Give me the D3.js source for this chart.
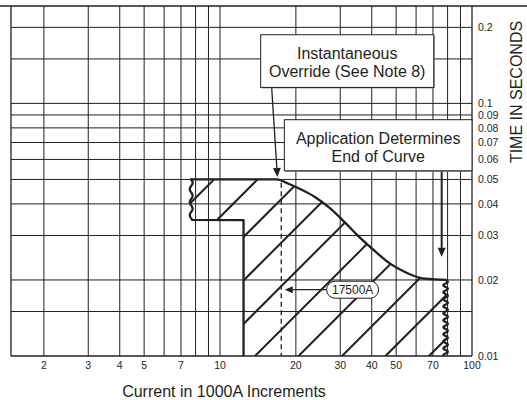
<!DOCTYPE html>
<html lang="en">
<head>
<meta charset="utf-8" />
<title>Instantaneous override curve</title>
<script src="https://d3js.org/d3.v7.min.js"></script>
<style>
  body { margin: 0; background: #fff; }
  svg { display: block; font-family: "Liberation Sans", Arial, Helvetica, sans-serif; }
</style>
</head>
<body>
<svg id="chart" width="527" height="400"></svg>
<script>
// grid and labels
const xGrid = [2, 3, 4, 5, 6, 7, 8, 9, 10, 20, 30, 40, 50, 60, 70, 80, 90];
const xTicks = [2, 3, 4, 5, 7, 10, 20, 30, 40, 50, 70, 100];
const yGrid = [0.015, 0.02, 0.03, 0.04, 0.05, 0.06, 0.07, 0.08, 0.09, 0.1, 0.15, 0.2];
const yTicks = [0.01, 0.02, 0.03, 0.04, 0.05, 0.06, 0.07, 0.08, 0.09, 0.1, 0.2];

// upper edge of the band (current in kA, time in s)
const curveCurrent = [7.6, 16.8, 18.6, 20.8, 23.8, 27.3, 31.3, 35.9, 41.2, 47.3, 54.2, 62.2, 71.3, 79];
const curveTime = [0.05, 0.05, 0.0482, 0.0458, 0.0426, 0.0385, 0.0338, 0.0294, 0.026, 0.0232, 0.0215, 0.0204, 0.0201, 0.02];
// step on the left side of the band
const stepCurrent = 12.4;
const stepTime = 0.0345;
const overrideCurrent = 17.5;

const svg = d3.select("#chart");
const ink = "#231f20";

const x = d3.scaleLog().domain([1.481, 100]).range([11, 472]);
const y = d3.scaleLog().domain([0.01, 0.243]).range([356, 6]);
const pLeft = x.range()[0], pRight = x.range()[1];
const pTop = y.range()[1], pBottom = y.range()[0];

// grid
const grid = svg.append("g").attr("stroke", ink).attr("stroke-width", 1);
grid.selectAll(".vx").data(xGrid).join("line")
  .attr("x1", d => x(d)).attr("x2", d => x(d))
  .attr("y1", pTop).attr("y2", pBottom);
grid.selectAll(".hy").data(yGrid).join("line")
  .attr("x1", pLeft).attr("x2", pRight)
  .attr("y1", d => y(d)).attr("y2", d => y(d));

// frame
svg.append("line").attr("x1", 0).attr("x2", 527).attr("y1", pTop).attr("y2", pTop)
  .attr("stroke", ink).attr("stroke-width", 1.3);
svg.append("line").attr("x1", pLeft).attr("x2", pLeft).attr("y1", pTop).attr("y2", pBottom)
  .attr("stroke", ink).attr("stroke-width", 1.3);
svg.append("line").attr("x1", pRight).attr("x2", pRight).attr("y1", pTop).attr("y2", pBottom)
  .attr("stroke", ink).attr("stroke-width", 1.3);
svg.append("line").attr("x1", pLeft).attr("x2", pRight).attr("y1", pBottom).attr("y2", pBottom)
  .attr("stroke", ink).attr("stroke-width", 1.3);

// tick labels
svg.append("g").selectAll("text").data(xTicks).join("text")
  .attr("x", d => x(d)).attr("y", 369)
  .attr("text-anchor", "middle").attr("font-size", 10.5).attr("fill", ink)
  .text(d => d);
svg.append("g").selectAll("text").data(yTicks).join("text")
  .attr("x", 478).attr("y", d => y(d) + 3.8)
  .attr("font-size", 10.5).attr("fill", ink)
  .text(d => String(d));

svg.append("text")
  .attr("transform", "translate(521.5,92) rotate(-90)")
  .attr("text-anchor", "middle").attr("font-size", 16).attr("fill", ink)
  .text("TIME IN SECONDS");
svg.append("text")
  .attr("x", 224).attr("y", 397)
  .attr("text-anchor", "middle").attr("font-size", 16).attr("fill", ink)
  .text("Current in 1000A Increments");

// band shape
const topPts = curveCurrent.map((c, i) => [x(c), y(curveTime[i])]);
const curveGen = d3.line().curve(d3.curveMonotoneX);
const topPath = curveGen(topPts);
const xL = x(curveCurrent[0]), xR = x(curveCurrent[curveCurrent.length - 1]);
const xS = x(stepCurrent), yS = y(stepTime);
const yTop = y(curveTime[0]), yRtop = y(curveTime[curveTime.length - 1]);

svg.append("clipPath").attr("id", "band")
  .append("path")
  .attr("d", topPath + `L${xR},${pBottom}L${xS},${pBottom}L${xS},${yS}L${xL},${yS}Z`);

// hatching
const hatchGap = 43.5;
const hatch = d3.range(10).map(k => 393.5 + k * hatchGap);
svg.append("g").attr("clip-path", "url(#band)")
  .selectAll("line").data(hatch).join("line")
  .attr("x1", c => c - pBottom).attr("y1", pBottom)
  .attr("x2", c => c - pTop).attr("y2", pTop)
  .attr("stroke", ink).attr("stroke-width", 2);

function wavy(px, y0, y1, amp, period, shift) {
  return d3.range(y0, y1 + 0.01, 0.5)
    .map(py => [px + shift + amp * Math.sin((py - y0) / period * 2 * Math.PI), py]);
}
const plain = d3.line();

const outline = svg.append("g").attr("fill", "none").attr("stroke", ink)
  .attr("stroke-width", 2.3).attr("stroke-linejoin", "round");
outline.append("path").attr("d", topPath);
outline.append("path").attr("d", plain(wavy(xR, yRtop, pBottom, 2.2, 7, -0.6)));
outline.append("path")
  .attr("d", plain(wavy(xL, yTop, yS, 1.4, 13, 1.2)) + `L${xS},${yS}L${xS},${pBottom}`);

// 17500A marker
svg.append("line")
  .attr("x1", x(overrideCurrent)).attr("x2", x(overrideCurrent))
  .attr("y1", y(0.0485)).attr("y2", pBottom)
  .attr("stroke", ink).attr("stroke-width", 1.3).attr("stroke-dasharray", "5,3.5");

function arrow(x1, y1, x2, y2, width, len, half) {
  const a = Math.atan2(y2 - y1, x2 - x1);
  const bx = x2 - len * Math.cos(a), by = y2 - len * Math.sin(a);
  const g = svg.append("g");
  g.append("line").attr("x1", x1).attr("y1", y1).attr("x2", bx).attr("y2", by)
    .attr("stroke", ink).attr("stroke-width", width);
  g.append("path")
    .attr("d", `M${x2},${y2}L${bx - half * Math.sin(a)},${by + half * Math.cos(a)}L${bx + half * Math.sin(a)},${by - half * Math.cos(a)}Z`)
    .attr("fill", ink);
}

const pill = { current: 33.6, time: 0.0183, w: 52, h: 17 };
const pcx = x(pill.current), pcy = y(pill.time);
arrow(pcx - pill.w / 2, pcy, x(overrideCurrent) + 3.5, pcy, 1.3, 8, 3.5);
svg.append("rect")
  .attr("x", pcx - pill.w / 2).attr("y", pcy - pill.h / 2)
  .attr("width", pill.w).attr("height", pill.h).attr("rx", pill.h / 2)
  .attr("fill", "#fff").attr("stroke", ink).attr("stroke-width", 1);
svg.append("text").attr("x", pcx).attr("y", pcy + 4.3)
  .attr("text-anchor", "middle").attr("font-size", 12).attr("fill", ink)
  .text("17500A");

// callouts
const callouts = [
  { lines: ["Instantaneous", "Override (See Note 8)"], i0: 14.5, i1: 70.5, t0: 0.187, t1: 0.1157,
    from: 16.03, to: [16.9, 0.0511], w: 1.3 },
  { lines: ["Application Determines", "End of Curve"], i0: 18, i1: 100, t0: 0.0862, t1: 0.0541,
    from: 75.8, to: [75.8, 0.0247], w: 2 }
];
callouts.forEach(c => {
  const bx = x(c.i0), by = y(c.t0), bw = x(c.i1) - x(c.i0), bh = y(c.t1) - y(c.t0);
  arrow(x(c.from), by + bh, x(c.to[0]), y(c.to[1]), c.w, 9, 4);
  svg.append("rect").attr("x", bx + 1).attr("y", by + 1).attr("width", bw).attr("height", bh)
    .attr("fill", "#888");
  svg.append("rect").attr("x", bx).attr("y", by).attr("width", bw).attr("height", bh)
    .attr("fill", "#fff").attr("stroke", ink).attr("stroke-width", 1);
  svg.append("g").selectAll("text").data(c.lines).join("text")
    .attr("x", bx + bw / 2).attr("y", (d, i) => by + 24 + i * 18.5)
    .attr("text-anchor", "middle").attr("font-size", 16).attr("fill", ink)
    .text(d => d);
});
</script>
</body>
</html>
